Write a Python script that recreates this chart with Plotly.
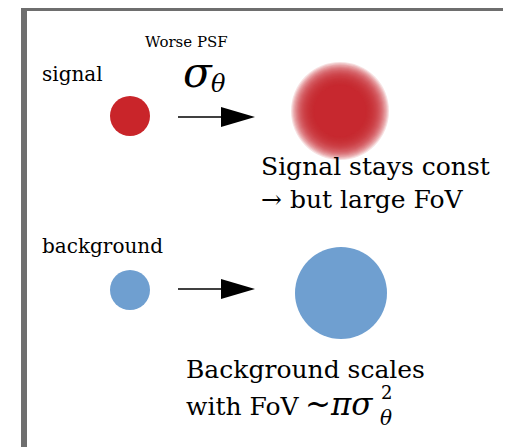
import plotly.graph_objects as go

# labels in the sketch
row_labels = ['signal', 'background']
psf_label = 'Worse PSF'
signal_note = ['Signal stays const', '→ but large FoV']
bkg_note = ['Background scales', 'with FoV']

red = '#c9252a'
blue = '#6f9fd0'
serif = 'DejaVu Serif'

fig = go.Figure()

# frame
fig.add_shape(type='rect', x0=24, y0=8, x1=560, y1=500,
              line=dict(color='#6e6e6e', width=6))

# small dots on the left
fig.add_shape(type='circle', x0=110, y0=96, x1=150, y1=136,
              fillcolor=red, line_width=0)
fig.add_shape(type='circle', x0=110, y0=270, x1=150, y1=310,
              fillcolor=blue, line_width=0)

# arrows
for y in [117, 289]:
    fig.add_shape(type='line', x0=178, y0=y, x1=225, y1=y,
                  line=dict(color='black', width=1.5))
    fig.add_shape(type='path', path=f'M 221 {y-10} L 255 {y} L 221 {y+10} Z',
                  fillcolor='black', line_width=0)

# blurred red blob (layered discs)
cx, cy = 340, 111
for i in range(22):
    r = 49 - i * 1.1
    fig.add_shape(type='circle', x0=cx - r, y0=cy - r, x1=cx + r, y1=cy + r,
                  fillcolor=red, opacity=0.14, line_width=0)

# big blue disc
fig.add_shape(type='circle', x0=295, y0=247, x1=387, y1=339,
              fillcolor=blue, line_width=0)

def txt(x, y, s, size, anchor='left'):
    fig.add_annotation(x=x, y=y, text=s, showarrow=False, xanchor=anchor,
                       yanchor='middle', font=dict(family=serif, size=size, color='black'))

txt(186, 42, psf_label, 15, 'center')
txt(40, 74, row_labels[0], 20)
txt(40, 246, row_labels[1], 20)
txt(181, 72, '<i>σ</i>', 42)
txt(209, 84, '<i>θ</i>', 24)

txt(259, 166, signal_note[0], 25)
txt(259, 199, signal_note[1], 25)
txt(184, 369, bkg_note[0], 25)
txt(184, 406, bkg_note[1], 25)
txt(303, 404, '~<i>πσ</i>', 31)
txt(379, 392, '2', 18)
txt(378, 418, '<i>θ</i>', 20)

# the page body adds an 8px margin, so the plot is shifted by 8px
fig.update_xaxes(range=[8, 511], visible=False)
fig.update_yaxes(range=[447, 8], visible=False)
fig.update_layout(width=503, height=439, margin=dict(l=0, r=0, t=0, b=0),
                  plot_bgcolor='white', paper_bgcolor='white', showlegend=False)
fig.write_html('out.html')
